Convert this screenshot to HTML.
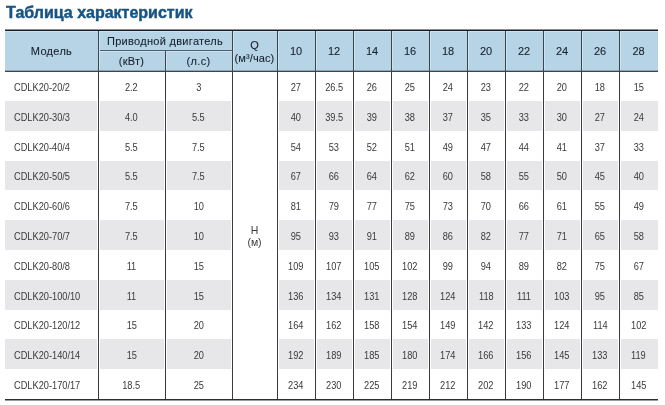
<!DOCTYPE html>
<html lang="ru"><head><meta charset="utf-8"><title>Таблица характеристик</title>
<style>
*{margin:0;padding:0;box-sizing:border-box}
html,body{width:665px;height:405px;overflow:hidden;background:#fff}
body{position:relative;font-family:"Liberation Sans",Arial,sans-serif}
.b{position:absolute}
.c{position:absolute;display:flex;align-items:center;justify-content:center;text-align:center;white-space:nowrap}
.h{color:#16222e;font-size:11px;letter-spacing:0.3px;-webkit-text-stroke:0.1px #16222e}
.n{font-size:11px;letter-spacing:0}
.d{color:#3a3a3a;font-size:10.5px;padding-top:1px}
.t{display:inline-block;transform:scaleX(0.88)}
.m .t{transform-origin:0 50%}
.m{justify-content:flex-start;padding-left:9px}
.q{line-height:13px;display:block;padding-top:2px;letter-spacing:0.1px}
.q sup{font-size:6px;vertical-align:4px;line-height:0}
.hm{line-height:12px;display:block}
h1{position:absolute;left:6px;top:3px;font-size:16px;letter-spacing:0;-webkit-text-stroke:0.45px #175482;font-weight:bold;color:#175482;white-space:nowrap;line-height:20px}
</style></head>
<body>
<h1>Таблица характеристик</h1>
<div class="b" style="left:5px;top:31px;width:653px;height:40px;background:#b7d4e7"></div><div class="b" style="left:5px;top:29px;width:653px;height:1px;background:#8c8f93"></div><div class="b" style="left:5px;top:30px;width:653px;height:1px;background:#141a20"></div><div class="b" style="left:5px;top:70px;width:653px;height:1px;background:#8fa6b6"></div><div class="b" style="left:5px;top:71px;width:653px;height:1px;background:#3a4550"></div><div class="b" style="left:5px;top:101px;width:92px;height:30px;background:#e7e7e9"></div><div class="b" style="left:100px;top:101px;width:64px;height:30px;background:#e7e7e9"></div><div class="b" style="left:167px;top:101px;width:64px;height:30px;background:#e7e7e9"></div><div class="b" style="left:279px;top:101px;width:35px;height:30px;background:#e7e7e9"></div><div class="b" style="left:317px;top:101px;width:35px;height:30px;background:#e7e7e9"></div><div class="b" style="left:355px;top:101px;width:35px;height:30px;background:#e7e7e9"></div><div class="b" style="left:393px;top:101px;width:35px;height:30px;background:#e7e7e9"></div><div class="b" style="left:431px;top:101px;width:35px;height:30px;background:#e7e7e9"></div><div class="b" style="left:469px;top:101px;width:35px;height:30px;background:#e7e7e9"></div><div class="b" style="left:507px;top:101px;width:35px;height:30px;background:#e7e7e9"></div><div class="b" style="left:545px;top:101px;width:35px;height:30px;background:#e7e7e9"></div><div class="b" style="left:583px;top:101px;width:35px;height:30px;background:#e7e7e9"></div><div class="b" style="left:621px;top:101px;width:37px;height:30px;background:#e7e7e9"></div><div class="b" style="left:5px;top:161px;width:92px;height:29px;background:#e7e7e9"></div><div class="b" style="left:100px;top:161px;width:64px;height:29px;background:#e7e7e9"></div><div class="b" style="left:167px;top:161px;width:64px;height:29px;background:#e7e7e9"></div><div class="b" style="left:279px;top:161px;width:35px;height:29px;background:#e7e7e9"></div><div class="b" style="left:317px;top:161px;width:35px;height:29px;background:#e7e7e9"></div><div class="b" style="left:355px;top:161px;width:35px;height:29px;background:#e7e7e9"></div><div class="b" style="left:393px;top:161px;width:35px;height:29px;background:#e7e7e9"></div><div class="b" style="left:431px;top:161px;width:35px;height:29px;background:#e7e7e9"></div><div class="b" style="left:469px;top:161px;width:35px;height:29px;background:#e7e7e9"></div><div class="b" style="left:507px;top:161px;width:35px;height:29px;background:#e7e7e9"></div><div class="b" style="left:545px;top:161px;width:35px;height:29px;background:#e7e7e9"></div><div class="b" style="left:583px;top:161px;width:35px;height:29px;background:#e7e7e9"></div><div class="b" style="left:621px;top:161px;width:37px;height:29px;background:#e7e7e9"></div><div class="b" style="left:5px;top:220px;width:92px;height:30px;background:#e7e7e9"></div><div class="b" style="left:100px;top:220px;width:64px;height:30px;background:#e7e7e9"></div><div class="b" style="left:167px;top:220px;width:64px;height:30px;background:#e7e7e9"></div><div class="b" style="left:279px;top:220px;width:35px;height:30px;background:#e7e7e9"></div><div class="b" style="left:317px;top:220px;width:35px;height:30px;background:#e7e7e9"></div><div class="b" style="left:355px;top:220px;width:35px;height:30px;background:#e7e7e9"></div><div class="b" style="left:393px;top:220px;width:35px;height:30px;background:#e7e7e9"></div><div class="b" style="left:431px;top:220px;width:35px;height:30px;background:#e7e7e9"></div><div class="b" style="left:469px;top:220px;width:35px;height:30px;background:#e7e7e9"></div><div class="b" style="left:507px;top:220px;width:35px;height:30px;background:#e7e7e9"></div><div class="b" style="left:545px;top:220px;width:35px;height:30px;background:#e7e7e9"></div><div class="b" style="left:583px;top:220px;width:35px;height:30px;background:#e7e7e9"></div><div class="b" style="left:621px;top:220px;width:37px;height:30px;background:#e7e7e9"></div><div class="b" style="left:5px;top:280px;width:92px;height:30px;background:#e7e7e9"></div><div class="b" style="left:100px;top:280px;width:64px;height:30px;background:#e7e7e9"></div><div class="b" style="left:167px;top:280px;width:64px;height:30px;background:#e7e7e9"></div><div class="b" style="left:279px;top:280px;width:35px;height:30px;background:#e7e7e9"></div><div class="b" style="left:317px;top:280px;width:35px;height:30px;background:#e7e7e9"></div><div class="b" style="left:355px;top:280px;width:35px;height:30px;background:#e7e7e9"></div><div class="b" style="left:393px;top:280px;width:35px;height:30px;background:#e7e7e9"></div><div class="b" style="left:431px;top:280px;width:35px;height:30px;background:#e7e7e9"></div><div class="b" style="left:469px;top:280px;width:35px;height:30px;background:#e7e7e9"></div><div class="b" style="left:507px;top:280px;width:35px;height:30px;background:#e7e7e9"></div><div class="b" style="left:545px;top:280px;width:35px;height:30px;background:#e7e7e9"></div><div class="b" style="left:583px;top:280px;width:35px;height:30px;background:#e7e7e9"></div><div class="b" style="left:621px;top:280px;width:37px;height:30px;background:#e7e7e9"></div><div class="b" style="left:5px;top:339px;width:92px;height:30px;background:#e7e7e9"></div><div class="b" style="left:100px;top:339px;width:64px;height:30px;background:#e7e7e9"></div><div class="b" style="left:167px;top:339px;width:64px;height:30px;background:#e7e7e9"></div><div class="b" style="left:279px;top:339px;width:35px;height:30px;background:#e7e7e9"></div><div class="b" style="left:317px;top:339px;width:35px;height:30px;background:#e7e7e9"></div><div class="b" style="left:355px;top:339px;width:35px;height:30px;background:#e7e7e9"></div><div class="b" style="left:393px;top:339px;width:35px;height:30px;background:#e7e7e9"></div><div class="b" style="left:431px;top:339px;width:35px;height:30px;background:#e7e7e9"></div><div class="b" style="left:469px;top:339px;width:35px;height:30px;background:#e7e7e9"></div><div class="b" style="left:507px;top:339px;width:35px;height:30px;background:#e7e7e9"></div><div class="b" style="left:545px;top:339px;width:35px;height:30px;background:#e7e7e9"></div><div class="b" style="left:583px;top:339px;width:35px;height:30px;background:#e7e7e9"></div><div class="b" style="left:621px;top:339px;width:37px;height:30px;background:#e7e7e9"></div><div class="b" style="left:5px;top:399px;width:653px;height:1px;background:#2a2d31"></div><div class="b" style="left:5px;top:400px;width:653px;height:1px;background:#9a9ca0"></div><div class="b" style="left:99px;top:50px;width:133px;height:1px;background:#4d5d69"></div><div class="b" style="left:99px;top:51px;width:133px;height:1px;background:#cde2ef"></div><div class="b" style="left:5px;top:31px;width:653px;height:1px;background:#cde2ef"></div><div class="b" style="left:99px;top:32px;width:1px;height:38px;background:#cde2ef"></div><div class="b" style="left:166px;top:52px;width:1px;height:18px;background:#cde2ef"></div><div class="b" style="left:233px;top:32px;width:1px;height:38px;background:#cde2ef"></div><div class="b" style="left:278px;top:32px;width:1px;height:38px;background:#cde2ef"></div><div class="b" style="left:316px;top:32px;width:1px;height:38px;background:#cde2ef"></div><div class="b" style="left:354px;top:32px;width:1px;height:38px;background:#cde2ef"></div><div class="b" style="left:392px;top:32px;width:1px;height:38px;background:#cde2ef"></div><div class="b" style="left:430px;top:32px;width:1px;height:38px;background:#cde2ef"></div><div class="b" style="left:468px;top:32px;width:1px;height:38px;background:#cde2ef"></div><div class="b" style="left:506px;top:32px;width:1px;height:38px;background:#cde2ef"></div><div class="b" style="left:544px;top:32px;width:1px;height:38px;background:#cde2ef"></div><div class="b" style="left:582px;top:32px;width:1px;height:38px;background:#cde2ef"></div><div class="b" style="left:620px;top:32px;width:1px;height:38px;background:#cde2ef"></div><div class="b" style="left:98px;top:31px;width:1px;height:40px;background:#3a4550"></div><div class="b" style="left:98px;top:72px;width:1px;height:327px;background:#3a3c40"></div><div class="b" style="left:165px;top:51px;width:1px;height:20px;background:#3a4550"></div><div class="b" style="left:165px;top:72px;width:1px;height:327px;background:#3a3c40"></div><div class="b" style="left:232px;top:31px;width:1px;height:40px;background:#3a4550"></div><div class="b" style="left:232px;top:72px;width:1px;height:327px;background:#3a3c40"></div><div class="b" style="left:277px;top:31px;width:1px;height:40px;background:#3a4550"></div><div class="b" style="left:277px;top:72px;width:1px;height:327px;background:#3a3c40"></div><div class="b" style="left:315px;top:31px;width:1px;height:40px;background:#3a4550"></div><div class="b" style="left:315px;top:72px;width:1px;height:327px;background:#3a3c40"></div><div class="b" style="left:353px;top:31px;width:1px;height:40px;background:#3a4550"></div><div class="b" style="left:353px;top:72px;width:1px;height:327px;background:#3a3c40"></div><div class="b" style="left:391px;top:31px;width:1px;height:40px;background:#3a4550"></div><div class="b" style="left:391px;top:72px;width:1px;height:327px;background:#3a3c40"></div><div class="b" style="left:429px;top:31px;width:1px;height:40px;background:#3a4550"></div><div class="b" style="left:429px;top:72px;width:1px;height:327px;background:#3a3c40"></div><div class="b" style="left:467px;top:31px;width:1px;height:40px;background:#3a4550"></div><div class="b" style="left:467px;top:72px;width:1px;height:327px;background:#3a3c40"></div><div class="b" style="left:505px;top:31px;width:1px;height:40px;background:#3a4550"></div><div class="b" style="left:505px;top:72px;width:1px;height:327px;background:#3a3c40"></div><div class="b" style="left:543px;top:31px;width:1px;height:40px;background:#3a4550"></div><div class="b" style="left:543px;top:72px;width:1px;height:327px;background:#3a3c40"></div><div class="b" style="left:581px;top:31px;width:1px;height:40px;background:#3a4550"></div><div class="b" style="left:581px;top:72px;width:1px;height:327px;background:#3a3c40"></div><div class="b" style="left:619px;top:31px;width:1px;height:40px;background:#3a4550"></div><div class="b" style="left:619px;top:72px;width:1px;height:327px;background:#3a3c40"></div><div class="c h" style="left:5px;top:31px;width:93px;height:40px">Модель</div><div class="c h" style="left:98px;top:31px;width:134px;height:19px">Приводной двигатель</div><div class="c h" style="left:98px;top:51px;width:67px;height:20px">(кВт)</div><div class="c h" style="left:165px;top:51px;width:67px;height:20px">(л.с)</div><div class="c h" style="left:232px;top:31px;width:45px;height:40px"><span class="q">Q<br>(м³/час)</span></div><div class="c h n" style="left:277px;top:31px;width:38px;height:40px">10</div><div class="c h n" style="left:315px;top:31px;width:38px;height:40px">12</div><div class="c h n" style="left:353px;top:31px;width:38px;height:40px">14</div><div class="c h n" style="left:391px;top:31px;width:38px;height:40px">16</div><div class="c h n" style="left:429px;top:31px;width:38px;height:40px">18</div><div class="c h n" style="left:467px;top:31px;width:38px;height:40px">20</div><div class="c h n" style="left:505px;top:31px;width:38px;height:40px">22</div><div class="c h n" style="left:543px;top:31px;width:38px;height:40px">24</div><div class="c h n" style="left:581px;top:31px;width:38px;height:40px">26</div><div class="c h n" style="left:619px;top:31px;width:39px;height:40px">28</div><div class="c d m" style="left:5px;top:72px;width:93px;height:29px"><span class="t">CDLK20-20/2</span></div><div class="c d" style="left:98px;top:72px;width:67px;height:29px"><span class="t">2.2</span></div><div class="c d" style="left:165px;top:72px;width:67px;height:29px"><span class="t">3</span></div><div class="c d" style="left:277px;top:72px;width:38px;height:29px"><span class="t">27</span></div><div class="c d" style="left:315px;top:72px;width:38px;height:29px"><span class="t">26.5</span></div><div class="c d" style="left:353px;top:72px;width:38px;height:29px"><span class="t">26</span></div><div class="c d" style="left:391px;top:72px;width:38px;height:29px"><span class="t">25</span></div><div class="c d" style="left:429px;top:72px;width:38px;height:29px"><span class="t">24</span></div><div class="c d" style="left:467px;top:72px;width:38px;height:29px"><span class="t">23</span></div><div class="c d" style="left:505px;top:72px;width:38px;height:29px"><span class="t">22</span></div><div class="c d" style="left:543px;top:72px;width:38px;height:29px"><span class="t">20</span></div><div class="c d" style="left:581px;top:72px;width:38px;height:29px"><span class="t">18</span></div><div class="c d" style="left:619px;top:72px;width:39px;height:29px"><span class="t">15</span></div><div class="c d m" style="left:5px;top:101px;width:93px;height:30px"><span class="t">CDLK20-30/3</span></div><div class="c d" style="left:98px;top:101px;width:67px;height:30px"><span class="t">4.0</span></div><div class="c d" style="left:165px;top:101px;width:67px;height:30px"><span class="t">5.5</span></div><div class="c d" style="left:277px;top:101px;width:38px;height:30px"><span class="t">40</span></div><div class="c d" style="left:315px;top:101px;width:38px;height:30px"><span class="t">39.5</span></div><div class="c d" style="left:353px;top:101px;width:38px;height:30px"><span class="t">39</span></div><div class="c d" style="left:391px;top:101px;width:38px;height:30px"><span class="t">38</span></div><div class="c d" style="left:429px;top:101px;width:38px;height:30px"><span class="t">37</span></div><div class="c d" style="left:467px;top:101px;width:38px;height:30px"><span class="t">35</span></div><div class="c d" style="left:505px;top:101px;width:38px;height:30px"><span class="t">33</span></div><div class="c d" style="left:543px;top:101px;width:38px;height:30px"><span class="t">30</span></div><div class="c d" style="left:581px;top:101px;width:38px;height:30px"><span class="t">27</span></div><div class="c d" style="left:619px;top:101px;width:39px;height:30px"><span class="t">24</span></div><div class="c d m" style="left:5px;top:131px;width:93px;height:30px"><span class="t">CDLK20-40/4</span></div><div class="c d" style="left:98px;top:131px;width:67px;height:30px"><span class="t">5.5</span></div><div class="c d" style="left:165px;top:131px;width:67px;height:30px"><span class="t">7.5</span></div><div class="c d" style="left:277px;top:131px;width:38px;height:30px"><span class="t">54</span></div><div class="c d" style="left:315px;top:131px;width:38px;height:30px"><span class="t">53</span></div><div class="c d" style="left:353px;top:131px;width:38px;height:30px"><span class="t">52</span></div><div class="c d" style="left:391px;top:131px;width:38px;height:30px"><span class="t">51</span></div><div class="c d" style="left:429px;top:131px;width:38px;height:30px"><span class="t">49</span></div><div class="c d" style="left:467px;top:131px;width:38px;height:30px"><span class="t">47</span></div><div class="c d" style="left:505px;top:131px;width:38px;height:30px"><span class="t">44</span></div><div class="c d" style="left:543px;top:131px;width:38px;height:30px"><span class="t">41</span></div><div class="c d" style="left:581px;top:131px;width:38px;height:30px"><span class="t">37</span></div><div class="c d" style="left:619px;top:131px;width:39px;height:30px"><span class="t">33</span></div><div class="c d m" style="left:5px;top:161px;width:93px;height:29px"><span class="t">CDLK20-50/5</span></div><div class="c d" style="left:98px;top:161px;width:67px;height:29px"><span class="t">5.5</span></div><div class="c d" style="left:165px;top:161px;width:67px;height:29px"><span class="t">7.5</span></div><div class="c d" style="left:277px;top:161px;width:38px;height:29px"><span class="t">67</span></div><div class="c d" style="left:315px;top:161px;width:38px;height:29px"><span class="t">66</span></div><div class="c d" style="left:353px;top:161px;width:38px;height:29px"><span class="t">64</span></div><div class="c d" style="left:391px;top:161px;width:38px;height:29px"><span class="t">62</span></div><div class="c d" style="left:429px;top:161px;width:38px;height:29px"><span class="t">60</span></div><div class="c d" style="left:467px;top:161px;width:38px;height:29px"><span class="t">58</span></div><div class="c d" style="left:505px;top:161px;width:38px;height:29px"><span class="t">55</span></div><div class="c d" style="left:543px;top:161px;width:38px;height:29px"><span class="t">50</span></div><div class="c d" style="left:581px;top:161px;width:38px;height:29px"><span class="t">45</span></div><div class="c d" style="left:619px;top:161px;width:39px;height:29px"><span class="t">40</span></div><div class="c d m" style="left:5px;top:190px;width:93px;height:30px"><span class="t">CDLK20-60/6</span></div><div class="c d" style="left:98px;top:190px;width:67px;height:30px"><span class="t">7.5</span></div><div class="c d" style="left:165px;top:190px;width:67px;height:30px"><span class="t">10</span></div><div class="c d" style="left:277px;top:190px;width:38px;height:30px"><span class="t">81</span></div><div class="c d" style="left:315px;top:190px;width:38px;height:30px"><span class="t">79</span></div><div class="c d" style="left:353px;top:190px;width:38px;height:30px"><span class="t">77</span></div><div class="c d" style="left:391px;top:190px;width:38px;height:30px"><span class="t">75</span></div><div class="c d" style="left:429px;top:190px;width:38px;height:30px"><span class="t">73</span></div><div class="c d" style="left:467px;top:190px;width:38px;height:30px"><span class="t">70</span></div><div class="c d" style="left:505px;top:190px;width:38px;height:30px"><span class="t">66</span></div><div class="c d" style="left:543px;top:190px;width:38px;height:30px"><span class="t">61</span></div><div class="c d" style="left:581px;top:190px;width:38px;height:30px"><span class="t">55</span></div><div class="c d" style="left:619px;top:190px;width:39px;height:30px"><span class="t">49</span></div><div class="c d m" style="left:5px;top:220px;width:93px;height:30px"><span class="t">CDLK20-70/7</span></div><div class="c d" style="left:98px;top:220px;width:67px;height:30px"><span class="t">7.5</span></div><div class="c d" style="left:165px;top:220px;width:67px;height:30px"><span class="t">10</span></div><div class="c d" style="left:277px;top:220px;width:38px;height:30px"><span class="t">95</span></div><div class="c d" style="left:315px;top:220px;width:38px;height:30px"><span class="t">93</span></div><div class="c d" style="left:353px;top:220px;width:38px;height:30px"><span class="t">91</span></div><div class="c d" style="left:391px;top:220px;width:38px;height:30px"><span class="t">89</span></div><div class="c d" style="left:429px;top:220px;width:38px;height:30px"><span class="t">86</span></div><div class="c d" style="left:467px;top:220px;width:38px;height:30px"><span class="t">82</span></div><div class="c d" style="left:505px;top:220px;width:38px;height:30px"><span class="t">77</span></div><div class="c d" style="left:543px;top:220px;width:38px;height:30px"><span class="t">71</span></div><div class="c d" style="left:581px;top:220px;width:38px;height:30px"><span class="t">65</span></div><div class="c d" style="left:619px;top:220px;width:39px;height:30px"><span class="t">58</span></div><div class="c d m" style="left:5px;top:250px;width:93px;height:30px"><span class="t">CDLK20-80/8</span></div><div class="c d" style="left:98px;top:250px;width:67px;height:30px"><span class="t">11</span></div><div class="c d" style="left:165px;top:250px;width:67px;height:30px"><span class="t">15</span></div><div class="c d" style="left:277px;top:250px;width:38px;height:30px"><span class="t">109</span></div><div class="c d" style="left:315px;top:250px;width:38px;height:30px"><span class="t">107</span></div><div class="c d" style="left:353px;top:250px;width:38px;height:30px"><span class="t">105</span></div><div class="c d" style="left:391px;top:250px;width:38px;height:30px"><span class="t">102</span></div><div class="c d" style="left:429px;top:250px;width:38px;height:30px"><span class="t">99</span></div><div class="c d" style="left:467px;top:250px;width:38px;height:30px"><span class="t">94</span></div><div class="c d" style="left:505px;top:250px;width:38px;height:30px"><span class="t">89</span></div><div class="c d" style="left:543px;top:250px;width:38px;height:30px"><span class="t">82</span></div><div class="c d" style="left:581px;top:250px;width:38px;height:30px"><span class="t">75</span></div><div class="c d" style="left:619px;top:250px;width:39px;height:30px"><span class="t">67</span></div><div class="c d m" style="left:5px;top:280px;width:93px;height:30px"><span class="t">CDLK20-100/10</span></div><div class="c d" style="left:98px;top:280px;width:67px;height:30px"><span class="t">11</span></div><div class="c d" style="left:165px;top:280px;width:67px;height:30px"><span class="t">15</span></div><div class="c d" style="left:277px;top:280px;width:38px;height:30px"><span class="t">136</span></div><div class="c d" style="left:315px;top:280px;width:38px;height:30px"><span class="t">134</span></div><div class="c d" style="left:353px;top:280px;width:38px;height:30px"><span class="t">131</span></div><div class="c d" style="left:391px;top:280px;width:38px;height:30px"><span class="t">128</span></div><div class="c d" style="left:429px;top:280px;width:38px;height:30px"><span class="t">124</span></div><div class="c d" style="left:467px;top:280px;width:38px;height:30px"><span class="t">118</span></div><div class="c d" style="left:505px;top:280px;width:38px;height:30px"><span class="t">111</span></div><div class="c d" style="left:543px;top:280px;width:38px;height:30px"><span class="t">103</span></div><div class="c d" style="left:581px;top:280px;width:38px;height:30px"><span class="t">95</span></div><div class="c d" style="left:619px;top:280px;width:39px;height:30px"><span class="t">85</span></div><div class="c d m" style="left:5px;top:310px;width:93px;height:29px"><span class="t">CDLK20-120/12</span></div><div class="c d" style="left:98px;top:310px;width:67px;height:29px"><span class="t">15</span></div><div class="c d" style="left:165px;top:310px;width:67px;height:29px"><span class="t">20</span></div><div class="c d" style="left:277px;top:310px;width:38px;height:29px"><span class="t">164</span></div><div class="c d" style="left:315px;top:310px;width:38px;height:29px"><span class="t">162</span></div><div class="c d" style="left:353px;top:310px;width:38px;height:29px"><span class="t">158</span></div><div class="c d" style="left:391px;top:310px;width:38px;height:29px"><span class="t">154</span></div><div class="c d" style="left:429px;top:310px;width:38px;height:29px"><span class="t">149</span></div><div class="c d" style="left:467px;top:310px;width:38px;height:29px"><span class="t">142</span></div><div class="c d" style="left:505px;top:310px;width:38px;height:29px"><span class="t">133</span></div><div class="c d" style="left:543px;top:310px;width:38px;height:29px"><span class="t">124</span></div><div class="c d" style="left:581px;top:310px;width:38px;height:29px"><span class="t">114</span></div><div class="c d" style="left:619px;top:310px;width:39px;height:29px"><span class="t">102</span></div><div class="c d m" style="left:5px;top:339px;width:93px;height:30px"><span class="t">CDLK20-140/14</span></div><div class="c d" style="left:98px;top:339px;width:67px;height:30px"><span class="t">15</span></div><div class="c d" style="left:165px;top:339px;width:67px;height:30px"><span class="t">20</span></div><div class="c d" style="left:277px;top:339px;width:38px;height:30px"><span class="t">192</span></div><div class="c d" style="left:315px;top:339px;width:38px;height:30px"><span class="t">189</span></div><div class="c d" style="left:353px;top:339px;width:38px;height:30px"><span class="t">185</span></div><div class="c d" style="left:391px;top:339px;width:38px;height:30px"><span class="t">180</span></div><div class="c d" style="left:429px;top:339px;width:38px;height:30px"><span class="t">174</span></div><div class="c d" style="left:467px;top:339px;width:38px;height:30px"><span class="t">166</span></div><div class="c d" style="left:505px;top:339px;width:38px;height:30px"><span class="t">156</span></div><div class="c d" style="left:543px;top:339px;width:38px;height:30px"><span class="t">145</span></div><div class="c d" style="left:581px;top:339px;width:38px;height:30px"><span class="t">133</span></div><div class="c d" style="left:619px;top:339px;width:39px;height:30px"><span class="t">119</span></div><div class="c d m" style="left:5px;top:369px;width:93px;height:30px"><span class="t">CDLK20-170/17</span></div><div class="c d" style="left:98px;top:369px;width:67px;height:30px"><span class="t">18.5</span></div><div class="c d" style="left:165px;top:369px;width:67px;height:30px"><span class="t">25</span></div><div class="c d" style="left:277px;top:369px;width:38px;height:30px"><span class="t">234</span></div><div class="c d" style="left:315px;top:369px;width:38px;height:30px"><span class="t">230</span></div><div class="c d" style="left:353px;top:369px;width:38px;height:30px"><span class="t">225</span></div><div class="c d" style="left:391px;top:369px;width:38px;height:30px"><span class="t">219</span></div><div class="c d" style="left:429px;top:369px;width:38px;height:30px"><span class="t">212</span></div><div class="c d" style="left:467px;top:369px;width:38px;height:30px"><span class="t">202</span></div><div class="c d" style="left:505px;top:369px;width:38px;height:30px"><span class="t">190</span></div><div class="c d" style="left:543px;top:369px;width:38px;height:30px"><span class="t">177</span></div><div class="c d" style="left:581px;top:369px;width:38px;height:30px"><span class="t">162</span></div><div class="c d" style="left:619px;top:369px;width:39px;height:30px"><span class="t">145</span></div><div class="c d" style="left:232px;top:72px;width:45px;height:327px"><span class="hm">H<br>(м)</span></div>
</body></html>
